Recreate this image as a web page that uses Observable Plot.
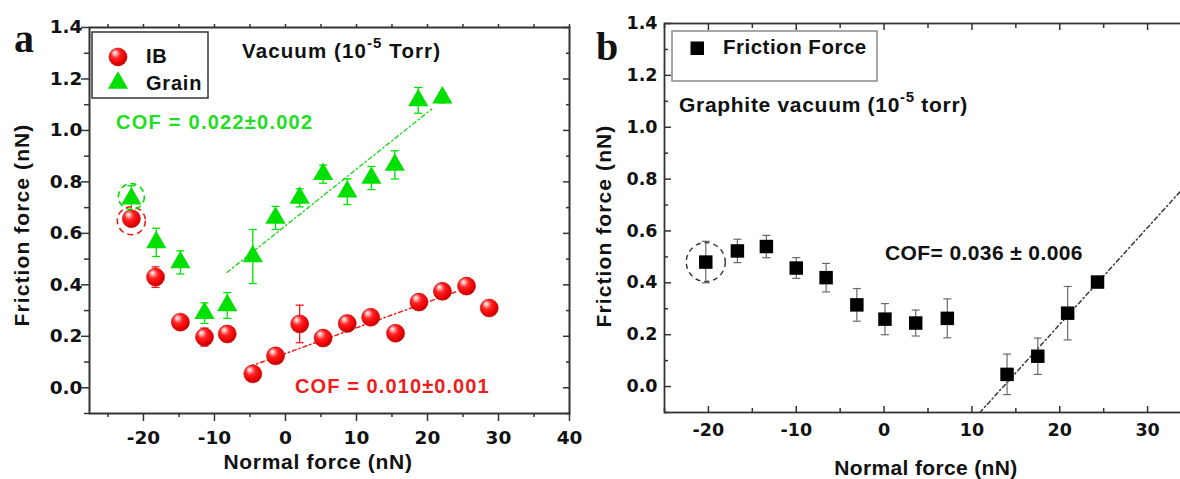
<!DOCTYPE html>
<html>
<head>
<meta charset="utf-8">
<title>Friction force vs normal force</title>
<script src="https://cdn.jsdelivr.net/npm/d3@7"></script>
<script src="https://cdn.jsdelivr.net/npm/@observablehq/plot@0.6"></script>
<style>
  html, body { margin: 0; padding: 0; background: #fff; overflow: hidden; }
  #figure { position: relative; width: 1180px; height: 479px; overflow: hidden; background: #fff; }
  #figure > svg { position: absolute; top: 0; }
</style>
</head>
<body>
<div id="figure"></div>
<script>
// ---- Panel a: interface boundary (IB) and grain, vacuum ----
const ibNormal   = [-21.7, -18.3, -14.8, -11.4, -8.2, -4.6, -1.4, 2.0, 5.3, 8.7, 12.0, 15.5, 18.8, 22.1, 25.5, 28.7];
const ibFriction = [0.657, 0.430, 0.255, 0.197, 0.209, 0.054, 0.124, 0.248, 0.193, 0.250, 0.274, 0.212, 0.333, 0.375, 0.395, 0.310];
const ibError    = [0.020, 0.040, 0.020, 0.035, 0.030, 0.020, 0.020, 0.073, 0.020, 0.030, 0.020, 0.020, 0.020, 0.020, 0.020, 0.020];

const grainNormal   = [-21.7, -18.2, -14.8, -11.4, -8.2, -4.6, -1.4, 2.0, 5.3, 8.7, 12.1, 15.4, 18.7, 22.1];
const grainFriction = [0.735, 0.565, 0.487, 0.290, 0.320, 0.510, 0.660, 0.738, 0.830, 0.762, 0.815, 0.866, 1.117, 1.127];
const grainError    = [0.050, 0.055, 0.045, 0.040, 0.050, 0.105, 0.045, 0.035, 0.035, 0.050, 0.045, 0.055, 0.050, 0.020];

// linear fits: end points of each fitted segment
const ibFitNormal      = [-5, 24];
const ibFitFriction    = [0.083, 0.373];
const grainFitNormal   = [-8.2, 20.6];
const grainFitFriction = [0.449, 1.083];

// ---- Panel b: graphite, vacuum ----
const graphiteNormal   = [-20.3, -16.7, -13.4, -10.0, -6.6, -3.1, 0.1, 3.6, 7.2, 14.0, 17.5, 20.9, 24.3];
const graphiteFriction = [0.480, 0.523, 0.540, 0.457, 0.420, 0.315, 0.260, 0.245, 0.263, 0.047, 0.117, 0.283, 0.403];
const graphiteError    = [0.080, 0.045, 0.043, 0.040, 0.055, 0.063, 0.060, 0.050, 0.075, 0.078, 0.070, 0.103, 0.020];

const graphiteFitNormal   = [10.9, 35];
const graphiteFitFriction = [-0.1, 0.8];

// axis ticks
const frictionTicks = [0, 0.2, 0.4, 0.6, 0.8, 1.0, 1.2, 1.4];
const normalTicksA  = [-20, -10, 0, 10, 20, 30, 40];
const normalTicksB  = [-20, -10, 0, 10, 20, 30];

// ---- styling ----
const RED = "#f21a1a", GREEN = "#00e000", INK = "#333";
const SANS = "'Liberation Sans', Arial, sans-serif";
const TICK_FACE = "'DejaVu Sans', sans-serif";
const SERIF = "'Liberation Serif', 'Times New Roman', serif";

const idx = a => d3.range(a.length);
const minorFriction = d3.range(-1, 14, 2).map(k => k / 10);   // -0.1, 0.1, ... 1.3

// horizontal bar used as an error-bar cap
const capSymbol = {
  draw(ctx, size) {
    const h = Math.sqrt(size / Math.PI);
    ctx.moveTo(-h, 0);
    ctx.lineTo(h, 0);
  }
};

function errorBars(xs, ys, es, color, width) {
  const I = idx(xs);
  return [
    Plot.ruleX(I, {x: i => xs[i], y1: i => ys[i] - es[i], y2: i => ys[i] + es[i], stroke: color, strokeWidth: width}),
    Plot.dot(I, {x: i => xs[i], y: i => ys[i] + es[i], symbol: capSymbol, r: 4, stroke: color, strokeWidth: width, fill: "none"}),
    Plot.dot(I, {x: i => xs[i], y: i => ys[i] - es[i], symbol: capSymbol, r: 4, stroke: color, strokeWidth: width, fill: "none"})
  ];
}

function fitLine(xs, ys, color) {
  return Plot.line(idx(xs), {x: i => xs[i], y: i => ys[i], stroke: color, strokeWidth: 1.5, strokeDasharray: "4,3,1.3,3"});
}

const tickText = size => ({fontSize: size, fontWeight: "bold", fontFamily: TICK_FACE, fill: "#111", label: null});
const tickOnly = {fill: "none", stroke: INK, strokeWidth: 1.5, label: null};

// ---- panel a ----
const plotA = Plot.plot({
  width: 580, height: 479,
  marginLeft: 89, marginRight: 11, marginTop: 27, marginBottom: 66,
  x: {domain: [-27.6, 40], label: null},
  y: {domain: [-0.1, 1.4], label: null},
  style: {background: "transparent", fontFamily: SANS, overflow: "visible"},
  marks: [
    fitLine(ibFitNormal, ibFitFriction, RED),
    fitLine(grainFitNormal, grainFitFriction, "#2fd82f"),
    ...errorBars(ibNormal, ibFriction, ibError, RED, 1.3),
    ...errorBars(grainNormal, grainFriction, grainError, GREEN, 1.3),
    Plot.dot(idx(ibNormal), {x: i => ibNormal[i], y: i => ibFriction[i], r: 9, fill: "url(#ballRed)", stroke: "#c80000", strokeWidth: 0.6}),
    Plot.dot(idx(grainNormal), {x: i => grainNormal[i], y: i => grainFriction[i], symbol: "triangle", r: 7.5, fill: GREEN}),
    // dashed rings around the first measurement of each series
    Plot.dot([0], {x: i => ibNormal[i], y: i => ibFriction[i], r: 14, dy: 2, fill: "none", stroke: RED, strokeWidth: 1.6, strokeDasharray: "6,4"}),
    Plot.dot([0], {x: i => grainNormal[i], y: i => grainFriction[i], r: 13, dy: -2, fill: "none", stroke: GREEN, strokeWidth: 1.6, strokeDasharray: "6,4"}),
    Plot.frame({stroke: INK, strokeWidth: 2}),
    Plot.axisY(frictionTicks, {anchor: "left", tickSize: 0, tickPadding: 7, tickFormat: d3.format(".1f"), ...tickText(18.5)}),
    Plot.axisX(normalTicksA, {anchor: "bottom", tickSize: 0, tickPadding: 17, tickFormat: d => String(d), ...tickText(18.5)}),
    Plot.axisY(frictionTicks, {anchor: "left", tickSize: 8, ...tickOnly}),
    Plot.axisY(minorFriction, {anchor: "left", tickSize: 5, ...tickOnly}),
    Plot.axisY(frictionTicks, {anchor: "right", tickSize: 7, dx: -7, ...tickOnly}),
    Plot.axisY(minorFriction, {anchor: "right", tickSize: 4, dx: -4, ...tickOnly}),
    Plot.axisX(normalTicksA, {anchor: "bottom", tickSize: 8, ...tickOnly}),
    Plot.axisX(d3.range(-25, 40, 10), {anchor: "bottom", tickSize: 4, ...tickOnly}),
    Plot.axisX(d3.range(-25, 41, 5), {anchor: "top", tickSize: 4, ...tickOnly})
  ]
});

// ---- panel b ----
const plotB = Plot.plot({
  width: 610, height: 479,
  marginLeft: 74, marginRight: 9, marginTop: 23, marginBottom: 67,
  x: {domain: [-25, 35], label: null},
  y: {domain: [-0.1, 1.4], label: null},
  style: {background: "transparent", fontFamily: SANS, overflow: "visible"},
  marks: [
    fitLine(graphiteFitNormal, graphiteFitFriction, "#3a3a3a"),
    ...errorBars(graphiteNormal, graphiteFriction, graphiteError, "#6a6a6a", 1.2),
    Plot.dot(idx(graphiteNormal), {x: i => graphiteNormal[i], y: i => graphiteFriction[i], symbol: "square", r: 7.6, fill: "#000"}),
    Plot.dot([0], {x: i => graphiteNormal[i], y: i => graphiteFriction[i], r: 19.5, fill: "none", stroke: "#333", strokeWidth: 1.4, strokeDasharray: "5,4"}),
    Plot.frame({stroke: INK, strokeWidth: 1.8}),
    Plot.axisY(frictionTicks, {anchor: "left", tickSize: 0, tickPadding: 7, tickFormat: d3.format(".1f"), ...tickText(17.5)}),
    Plot.axisX(normalTicksB, {anchor: "bottom", tickSize: 0, tickPadding: 11, tickFormat: d => String(d), ...tickText(17.5)}),
    Plot.axisY(frictionTicks, {anchor: "left", tickSize: 7, dx: 7, ...tickOnly}),
    Plot.axisY(minorFriction, {anchor: "left", tickSize: 4, dx: 4, ...tickOnly}),
    Plot.axisX(normalTicksB, {anchor: "bottom", tickSize: 6, dy: -6, ...tickOnly}),
    Plot.axisX(d3.range(-25, 35, 10), {anchor: "bottom", tickSize: 4, dy: -4, ...tickOnly}),
    Plot.axisX(normalTicksB, {anchor: "top", tickSize: 6, dy: 6, ...tickOnly}),
    Plot.axisX(d3.range(-25, 35, 10), {anchor: "top", tickSize: 4, dy: 4, ...tickOnly})
  ]
});

const fig = document.getElementById("figure");
plotA.style.left = "0px";
plotB.style.left = "590px";
fig.appendChild(plotA);
fig.appendChild(plotB);

// ---- annotations ----
function label(svg, x, y, parts, {size = 20, color = "#111", family = SANS, spacing = 0, anchor = "start", rotate = 0, weight = "bold"} = {}) {
  const t = d3.select(svg).append("text")
    .attr("transform", `translate(${x},${y})` + (rotate ? ` rotate(${rotate})` : ""))
    .attr("text-anchor", anchor)
    .attr("font-family", family)
    .attr("font-size", size)
    .attr("font-weight", weight)
    .attr("letter-spacing", spacing)
    .attr("fill", color);
  let lift = 0;
  for (const p of [].concat(parts)) {
    const part = typeof p === "string" ? {text: p} : p;
    const s = t.append("tspan").text(part.text);
    const target = part.sup ? -part.sup : 0;
    if (target !== lift) { s.attr("dy", target - lift); lift = target; }
    if (part.size) s.attr("font-size", part.size);
  }
  return t;
}

const svgA = plotA, svgB = plotB;

// sphere shading for the IB markers
d3.select(svgA).append("defs").html(`
  <radialGradient id="ballRed" cx="0.42" cy="0.38" r="0.62" fx="0.32" fy="0.26">
    <stop offset="0" stop-color="#ffffff"/>
    <stop offset="0.16" stop-color="#ffb0b0"/>
    <stop offset="0.42" stop-color="#ff2424"/>
    <stop offset="0.82" stop-color="#e80000"/>
    <stop offset="1" stop-color="#b80000"/>
  </radialGradient>`);

// panel a text
label(svgA, 14, 52, "a", {size: 40, family: SERIF, color: "#111"});
label(svgA, 29, 225, "Friction force (nN)", {size: 21, spacing: 1.1, anchor: "middle", rotate: -90});
label(svgA, 318, 469, "Normal force (nN)", {size: 21, spacing: 0.7, anchor: "middle"});
label(svgA, 242, 58, ["Vacuum (10", {text: "-5", sup: 10, size: 15}, {text: " Torr)"}], {size: 20.5, spacing: 1.1});
label(svgA, 116, 129, "COF = 0.022±0.002", {size: 20, spacing: 1.25, color: "#22dd22"});
label(svgA, 295, 393, "COF = 0.010±0.001", {size: 20, spacing: 1.1, color: "#ee1c1c"});

// panel a legend
const legA = d3.select(svgA).append("g");
legA.append("rect").attr("x", 92).attr("y", 32).attr("width", 116).attr("height", 66)
  .attr("fill", "#fff").attr("stroke", INK).attr("stroke-width", 1.5);
legA.append("circle").attr("cx", 118).attr("cy", 57).attr("r", 9)
  .attr("fill", "url(#ballRed)").attr("stroke", "#c80000").attr("stroke-width", 0.6);
legA.append("path").attr("transform", "translate(118,83)")
  .attr("d", d3.symbol(d3.symbolTriangle, Math.PI * 7.5 * 7.5)()).attr("fill", GREEN);
label(svgA, 146, 63, "IB", {size: 20, spacing: 0.8});
label(svgA, 146, 90, "Grain", {size: 20, spacing: 0.8});

// panel b text (svg starts at x = 590)
label(svgB, 6, 60, "b", {size: 40, family: SERIF, color: "#111"});
label(svgB, 21, 226, "Friction force (nN)", {size: 21, spacing: 1.1, anchor: "middle", rotate: -90});
label(svgB, 336, 475, "Normal force (nN)", {size: 21, spacing: 0.35, anchor: "middle"});
label(svgB, 89, 112, ["Graphite vacuum (10", {text: "-5", sup: 10, size: 15}, {text: " torr)"}], {size: 21, spacing: 0.7});
label(svgB, 295, 260, "COF= 0.036 ± 0.006", {size: 21, spacing: 0.4});

// panel b legend
const legB = d3.select(svgB).append("g");
legB.append("rect").attr("x", 82).attr("y", 31).attr("width", 205).attr("height", 50)
  .attr("fill", "#fff").attr("stroke", "#8a8a8a").attr("stroke-width", 1.5);
legB.append("rect").attr("x", 100.5).attr("y", 41.5).attr("width", 13.5).attr("height", 13.5).attr("fill", "#000");
label(svgB, 133, 54, "Friction Force", {size: 20.5, spacing: 0.5});
</script>
</body>
</html>
